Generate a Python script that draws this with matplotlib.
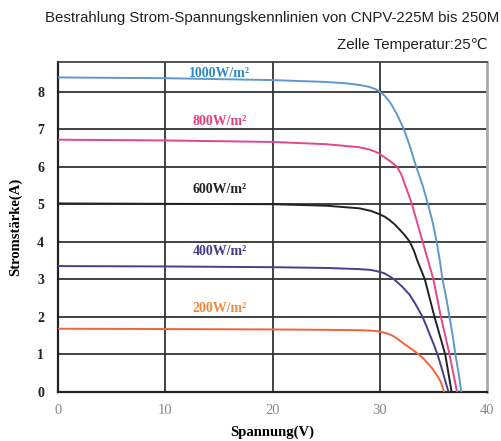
import matplotlib
matplotlib.use("Agg")
import matplotlib.pyplot as plt

# ---- data ----
v_1000 = [0, 10, 20, 25, 27, 28.1, 29.0, 29.6, 30.0, 30.5, 31.0, 31.6, 32.25, 32.8, 33.4, 34.0,
          34.5, 34.95, 35.3, 35.6, 35.85, 36.2, 36.5, 36.8, 37.05, 37.35, 37.6]
i_1000 = [8.38, 8.36, 8.31, 8.26, 8.22, 8.18, 8.13, 8.07, 8.0, 7.88, 7.7, 7.4, 7.0, 6.55, 6.0, 5.5,
          5.0, 4.5, 4.0, 3.5, 3.0, 2.5, 2.0, 1.5, 1.0, 0.5, 0]

v_800 = [0, 10, 20, 25, 28.1, 29.0, 29.6, 30.0, 30.5, 31.0, 31.6, 32.0, 32.3, 32.7, 33.0, 33.5,
         34.0, 34.5, 35.0, 35.35, 35.7, 36.1, 36.5, 36.85, 37.2]
i_800 = [6.72, 6.70, 6.66, 6.6, 6.52, 6.46, 6.4, 6.34, 6.24, 6.14, 6.0, 5.8, 5.56, 5.25, 5.0, 4.5,
         4.0, 3.5, 3.0, 2.5, 2.0, 1.5, 1.0, 0.5, 0]

v_600 = [0, 10, 20, 25, 28.1, 29.2, 30.0, 30.5, 30.9, 31.4, 31.9, 32.4, 32.8, 33.2, 33.5, 33.85,
         34.2, 34.65, 35.1, 35.6, 36.1, 36.4, 36.7]
i_600 = [5.02, 5.01, 5.0, 4.96, 4.89, 4.82, 4.73, 4.66, 4.58, 4.46, 4.31, 4.15, 4.0, 3.75, 3.5, 3.25,
         3.0, 2.5, 2.0, 1.5, 1.0, 0.5, 0]

v_400 = [0, 10, 20, 25, 28, 29.1, 29.8, 30.4, 30.9, 31.4, 32.1, 32.8, 33.2, 33.5, 34.0, 34.35,
         34.7, 35.05, 35.4, 35.7, 36.05, 36.4]
i_400 = [3.35, 3.34, 3.32, 3.3, 3.27, 3.25, 3.21, 3.16, 3.08, 2.98, 2.8, 2.58, 2.4, 2.25, 1.99, 1.75,
         1.5, 1.25, 0.98, 0.7, 0.35, 0]

v_200 = [0, 10, 20, 25, 28, 29.1, 29.6, 30.0, 30.6, 31.0, 31.4, 31.8, 32.2, 32.6, 33.0, 33.7,
         34.1, 34.5, 34.9, 35.3, 35.5, 35.7, 35.85, 36.0]
i_200 = [1.68, 1.67, 1.66, 1.65, 1.64, 1.63, 1.62, 1.6, 1.56, 1.52, 1.46, 1.38, 1.29, 1.21, 1.13, 0.98,
         0.88, 0.75, 0.62, 0.45, 0.36, 0.25, 0.13, 0]

labels = ["1000W/m\u00b2", "800W/m\u00b2", "600W/m\u00b2", "400W/m\u00b2", "200W/m\u00b2"]
label_y = [8.49, 7.2, 5.38, 3.73, 2.22]
label_x = 15.1

x_ticks = [0, 10, 20, 30, 40]
y_ticks = [0, 1, 2, 3, 4, 5, 6, 7, 8]

line_colors = ["#5e98cc", "#e0488a", "#222222", "#463f8c", "#f0643a"]
text_colors = ["#2e88c6", "#e0407f", "#222222", "#46398a", "#f08a40"]

title = "Bestrahlung Strom-Spannungskennlinien von CNPV-225M bis 250M"
subtitle = "Zelle Temperatur:25\u2103"

# ---- figure ----
fig = plt.figure(figsize=(5.02, 4.41), dpi=100)
ax = fig.add_axes([58 / 502, 1 - 391.7 / 441, (487 - 58) / 502, (391.7 - 61.7) / 441])
ax.set_xlim(0, 40)
ax.set_ylim(0, 8.8)

for t in [10, 20, 30]:
    ax.axvline(t, color="#333333", lw=1.3, zorder=1)
for t in range(1, 9):
    ax.axhline(t, color="#333333", lw=1.3, zorder=1)

series = [(v_1000, i_1000), (v_800, i_800), (v_600, i_600), (v_400, i_400), (v_200, i_200)]
for (v, i), c in zip(series, line_colors):
    ax.plot(v, i, color=c, lw=1.4, zorder=3, solid_joinstyle="round")

serif = ["Liberation Serif", "DejaVu Serif"]
for lab, y, c in zip(labels, label_y, text_colors):
    ax.text(label_x, y, lab, color=c, fontsize=10, fontweight="bold",
            family=serif, ha="center", va="center", zorder=4)

ax.set_xticks(x_ticks)
ax.set_yticks(y_ticks)
ax.set_xticklabels([str(t) for t in x_ticks], family=serif, fontsize=10.5, color="#888888")
ax.set_yticklabels([str(t) for t in y_ticks], family=serif, fontsize=10, fontweight="bold", color="#222222")
ax.tick_params(length=0, pad=9)
ax.tick_params(axis="y", pad=10)

ax.set_xlabel("Spannung(V)", family=serif, fontsize=10.5, fontweight="bold", labelpad=6)
ax.set_ylabel("Stromstärke(A)", family=serif, fontsize=10.5, fontweight="bold", labelpad=11)

for s in ["left", "bottom"]:
    ax.spines[s].set_color("#222222")
    ax.spines[s].set_linewidth(1.6)
ax.spines["top"].set_color("#444444")
ax.spines["top"].set_linewidth(1.3)
ax.spines["right"].set_color("#aaaaaa")
ax.spines["right"].set_linewidth(2.0)

sans = ["Liberation Sans", "DejaVu Sans"]
fig.text(499 / 502, 1 - 18 / 441, title, family=sans, fontsize=10.8, ha="right", va="center", color="#222222")
fig.text(488 / 502, 1 - 45 / 441, subtitle, family=sans, fontsize=10.8, ha="right", va="center", color="#222222")

fig.savefig("out.png", dpi=100)
